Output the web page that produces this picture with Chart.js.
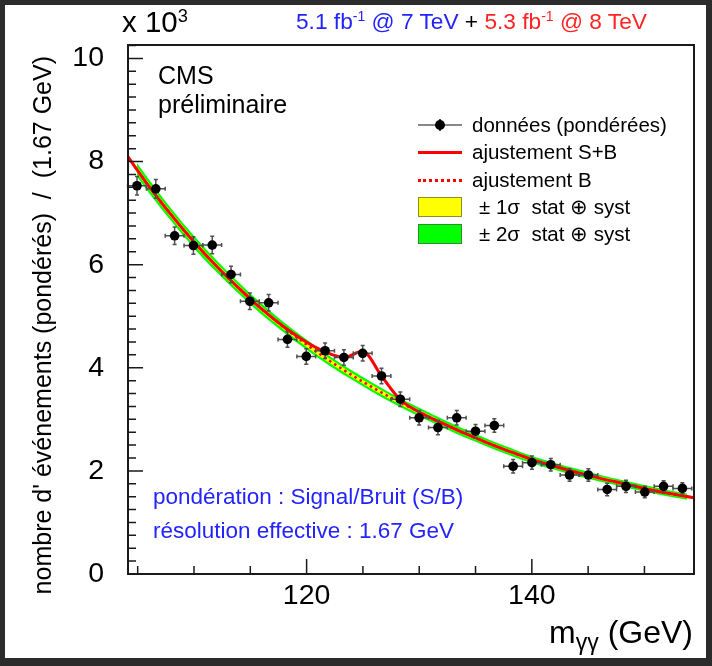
<!DOCTYPE html>
<html lang="fr">
<head>
<meta charset="utf-8">
<title>Distribution m_γγ pondérée</title>
<script src="https://cdn.jsdelivr.net/npm/chart.js@4.4.1/dist/chart.umd.min.js"></script>
<style>
    body { margin: 0; background: #2b2b2b; }
    #cadre { position: relative; width: 712px; height: 666px; overflow: hidden; }
    #papier { position: absolute; left: 5px; top: 5px; right: 6px; bottom: 8px; background: #fff; }
    #grafico { position: absolute; left: 0; top: 0; }
    .txt { position: absolute; font-family: "Liberation Sans", Arial, sans-serif; line-height: 1; white-space: nowrap; color: #000; }
    .bleu { color: #2323ff; }
    .rouge { color: #ff2323; }
    sup { font-size: 62%; vertical-align: 0; position: relative; top: -0.55em; }
    sub { font-size: 72%; vertical-align: 0; position: relative; top: 0.3em; }
    .ligne-legende { position: absolute; height: 0; }
    .boite { position: absolute; width: 42px; height: 18px; }
</style>
</head>
<body>
<div id="cadre">
    <div id="papier"></div>
    <canvas id="grafico" width="712" height="666"></canvas>

    <div class="txt" style="left:122px; top:7px; font-size:29.5px;">x 10<sup>3</sup></div>
    <div class="txt" style="left:296px; top:10px; font-size:22.7px;"><span class="bleu">5.1 fb<sup>-1</sup> @ 7 TeV</span> + <span class="rouge">5.3 fb<sup>-1</sup> @ 8 TeV</span></div>

    <div class="txt" style="left:158px; top:63px; font-size:25px;">CMS</div>
    <div class="txt" style="left:158px; top:92px; font-size:25px;">préliminaire</div>

    <div class="ligne-legende" style="left:418px; top:124px; width:44px; border-top:2px solid #888;"></div>
    <div class="ligne-legende" style="left:439px; top:119px; width:0; height:12px; border-left:2px solid #444;"></div>
    <div class="ligne-legende" style="left:435px; top:120px; width:10px; height:10px; border-radius:50%; background:#000;"></div>
    <div class="txt" style="left:472px; top:115px; font-size:20.5px;">données (pondérées)</div>

    <div class="ligne-legende" style="left:418px; top:151px; width:44px; border-top:3px solid #ff0000;"></div>
    <div class="txt" style="left:472px; top:142px; font-size:20.5px;">ajustement S+B</div>

    <div class="ligne-legende" style="left:418px; top:179px; width:44px; border-top:3px dotted #ff0000;"></div>
    <div class="txt" style="left:472px; top:170px; font-size:20.5px;">ajustement B</div>

    <div class="boite" style="left:418px; top:197px; background:#ffff00; border:1px solid #8f8f20;"></div>
    <div class="txt" style="left:479px; top:197px; font-size:20.5px;">± 1σ&nbsp; stat ⊕ syst</div>

    <div class="boite" style="left:418px; top:224px; background:#00ff00; border:1px solid #2a8f2a;"></div>
    <div class="txt" style="left:479px; top:224px; font-size:20.5px;">± 2σ&nbsp; stat ⊕ syst</div>

    <div class="txt bleu" style="left:153px; top:486px; font-size:22.5px;">pondération : Signal/Bruit (S/B)</div>
    <div class="txt bleu" style="left:153px; top:520px; font-size:22.5px;">résolution effective : 1.67 GeV</div>

    <div class="txt" style="left:30px; top:614px; width:558px; text-align:right; font-size:25px; transform-origin:0 0; transform:rotate(-90deg);">nombre d' événements (pondérés)&nbsp; / &nbsp;(1.67 GeV)</div>
    <div class="txt" style="right:19px; top:616px; font-size:32px;">m<sub>γγ</sub> (GeV)</div>
</div>

<script>
const massesDonnees = [104.94, 106.61, 108.28, 109.95, 111.62, 113.29, 114.96, 116.63, 118.30, 119.97,
    121.64, 123.31, 124.98, 126.65, 128.32, 129.99, 131.66, 133.33, 135.00, 136.67,
    138.34, 140.01, 141.68, 143.35, 145.02, 146.69, 148.36, 150.03, 151.70, 153.37];
const evenementsPonderes = [7.53, 7.47, 6.56, 6.37, 6.38, 5.81, 5.29, 5.26, 4.55, 4.22,
    4.33, 4.20, 4.28, 3.84, 3.39, 3.03, 2.84, 3.03, 2.77, 2.88,
    2.09, 2.16, 2.12, 1.92, 1.92, 1.64, 1.70, 1.59, 1.70, 1.66];
const erreursEvenements = [0.18, 0.18, 0.17, 0.17, 0.17, 0.16, 0.16, 0.16, 0.15, 0.15,
    0.15, 0.15, 0.15, 0.15, 0.14, 0.14, 0.14, 0.14, 0.13, 0.13,
    0.13, 0.13, 0.12, 0.12, 0.12, 0.12, 0.12, 0.11, 0.11, 0.11];
const demiLargeurBin = 0.835;

const massesFondB = [104.14, 104.94, 106, 108, 110, 112, 114, 116, 118, 120, 122, 124, 126, 128,
    130, 132, 134, 136, 138, 140, 142, 144, 146, 148, 150, 152, 153.8, 154.4];
const ajustementB = [8.09, 7.84, 7.52, 6.96, 6.44, 5.97, 5.54, 5.14, 4.78, 4.45, 4.14, 3.86, 3.60, 3.36,
    3.14, 2.93, 2.73, 2.55, 2.38, 2.22, 2.09, 1.97, 1.86, 1.76, 1.66, 1.57, 1.50, 1.48];

// demi-largeurs des bandes, definies sur massesFondB sans la premiere et la derniere valeur
const demiBande1Sigma = [0.06, 0.06, 0.055, 0.055, 0.05, 0.05, 0.05, 0.045, 0.045, 0.045, 0.04, 0.04, 0.04,
    0.04, 0.035, 0.035, 0.035, 0.035, 0.03, 0.03, 0.03, 0.03, 0.03, 0.03, 0.03, 0.03];
const demiBande2Sigma = [0.13, 0.13, 0.12, 0.12, 0.115, 0.11, 0.105, 0.10, 0.10, 0.095, 0.09, 0.09, 0.085,
    0.085, 0.08, 0.08, 0.075, 0.075, 0.07, 0.07, 0.07, 0.065, 0.065, 0.065, 0.06, 0.06];

const massesSignalFond = [104.14, 106, 108, 110, 112, 114, 116, 118, 119.97, 121.64, 123.31, 124.98, 126.65, 128.32,
    130, 132, 134, 136, 138, 140, 142, 144, 146, 148, 150, 152, 154.4];
const ajustementSB = [8.09, 7.52, 6.96, 6.44, 5.97, 5.54, 5.14, 4.79, 4.50, 4.31, 4.20, 4.32, 3.84, 3.38,
    3.14, 2.93, 2.73, 2.55, 2.38, 2.22, 2.09, 1.97, 1.86, 1.76, 1.66, 1.57, 1.48];

const ticksXMajeurs = [120, 140];
const ticksXMineurs = [105, 110, 115, 125, 130, 135, 145, 150];
const ticksYMajeurs = [0, 2, 4, 6, 8, 10];
const pasYMineur = 0.25;

const police = "'Liberation Sans', Arial, sans-serif";

function pontos(xs, ys) {
    return xs.map((x, i) => ({ x: x, y: ys[i] }));
}

function bande(demi, signe) {
    const xs = massesFondB.slice(1, -1);
    const centre = ajustementB.slice(1, -1);
    return xs.map((x, i) => ({ x: x, y: centre[i] + signe * demi[i] }));
}

const barresErreur = {
    id: "barresErreur",
    beforeDatasetDraw(chart, args) {
        if (args.index !== 6) return;
        const ctx = chart.ctx;
        const sx = chart.scales.x;
        const sy = chart.scales.y;
        ctx.save();
        ctx.strokeStyle = "#505050";
        ctx.lineWidth = 1.5;
        massesDonnees.forEach((m, i) => {
            const px = sx.getPixelForValue(m);
            const py = sy.getPixelForValue(evenementsPonderes[i]);
            const x1 = sx.getPixelForValue(m - demiLargeurBin);
            const x2 = sx.getPixelForValue(m + demiLargeurBin);
            const y1 = sy.getPixelForValue(evenementsPonderes[i] - erreursEvenements[i]);
            const y2 = sy.getPixelForValue(evenementsPonderes[i] + erreursEvenements[i]);
            ctx.beginPath();
            ctx.moveTo(x1, py); ctx.lineTo(x2, py);
            ctx.moveTo(px, y1); ctx.lineTo(px, y2);
            ctx.moveTo(x1, py - 2); ctx.lineTo(x1, py + 2);
            ctx.moveTo(x2, py - 2); ctx.lineTo(x2, py + 2);
            ctx.moveTo(px - 2, y1); ctx.lineTo(px + 2, y1);
            ctx.moveTo(px - 2, y2); ctx.lineTo(px + 2, y2);
            ctx.stroke();
        });
        ctx.restore();
    }
};

const cadreAxes = {
    id: "cadreAxes",
    afterDraw(chart) {
        const ctx = chart.ctx;
        const a = chart.chartArea;
        const sx = chart.scales.x;
        const sy = chart.scales.y;
        ctx.save();
        ctx.strokeStyle = "#1a1a1a";
        ctx.lineWidth = 2;
        ctx.strokeRect(a.left, a.top, a.right - a.left, a.bottom - a.top);
        ctx.lineWidth = 1.5;
        ctx.beginPath();
        ticksXMajeurs.forEach(v => {
            const p = sx.getPixelForValue(v);
            ctx.moveTo(p, a.bottom); ctx.lineTo(p, a.bottom - 15);
        });
        ticksXMineurs.forEach(v => {
            const p = sx.getPixelForValue(v);
            ctx.moveTo(p, a.bottom); ctx.lineTo(p, a.bottom - 8);
        });
        for (let v = 0; v <= sy.max; v += pasYMineur) {
            const p = sy.getPixelForValue(v);
            const longueur = ticksYMajeurs.includes(v) ? 15 : 8;
            ctx.moveTo(a.left, p); ctx.lineTo(a.left + longueur, p);
        }
        ctx.stroke();
        ctx.restore();
    }
};

function linha(donnees, extra) {
    return Object.assign({
        data: donnees,
        showLine: true,
        pointRadius: 0,
        borderWidth: 0,
        cubicInterpolationMode: "monotone",
        fill: false
    }, extra);
}

function criarGrafico() {
    const ctx = document.querySelector("#grafico");
    return new Chart(ctx, {
        type: "line",
        data: {
            datasets: [
                linha(bande(demiBande2Sigma, 1), { order: 6 }),
                linha(bande(demiBande2Sigma, -1), { order: 5, fill: "-1", backgroundColor: "#00ff00" }),
                linha(bande(demiBande1Sigma, 1), { order: 4 }),
                linha(bande(demiBande1Sigma, -1), { order: 3, fill: "-1", backgroundColor: "#ffff00" }),
                linha(pontos(massesFondB, ajustementB), { order: 2, borderColor: "#ff0000", borderWidth: 2.5, borderDash: [2.5, 3.5] }),
                linha(pontos(massesSignalFond, ajustementSB), { order: 1, borderColor: "#ff0000", borderWidth: 3 }),
                {
                    data: pontos(massesDonnees, evenementsPonderes),
                    showLine: false,
                    order: 0,
                    pointRadius: 4.8,
                    pointBorderWidth: 0,
                    pointBackgroundColor: "#000",
                    pointBorderColor: "#000"
                }
            ]
        },
        options: {
            responsive: false,
            animation: false,
            devicePixelRatio: 1,
            layout: { padding: { left: 0, top: 45, right: 18, bottom: 0 } },
            plugins: { legend: { display: false }, tooltip: { enabled: false } },
            scales: {
                x: {
                    type: "linear",
                    min: 104.14,
                    max: 154.4,
                    grid: { display: false, drawTicks: false },
                    border: { display: false },
                    ticks: { stepSize: 20, includeBounds: false, padding: 5, color: "#000", font: { family: police, size: 28.5 } },
                    afterFit(scale) { scale.height = 92; }
                },
                y: {
                    type: "linear",
                    min: 0,
                    max: 10.26,
                    grid: { display: false, drawTicks: false },
                    border: { display: false },
                    ticks: { stepSize: 2, includeBounds: false, padding: 24, color: "#000", font: { family: police, size: 28.5 } },
                    afterFit(scale) { scale.width = 128; }
                }
            }
        },
        plugins: [barresErreur, cadreAxes]
    });
}

window.onload = criarGrafico;
</script>
</body>
</html>
